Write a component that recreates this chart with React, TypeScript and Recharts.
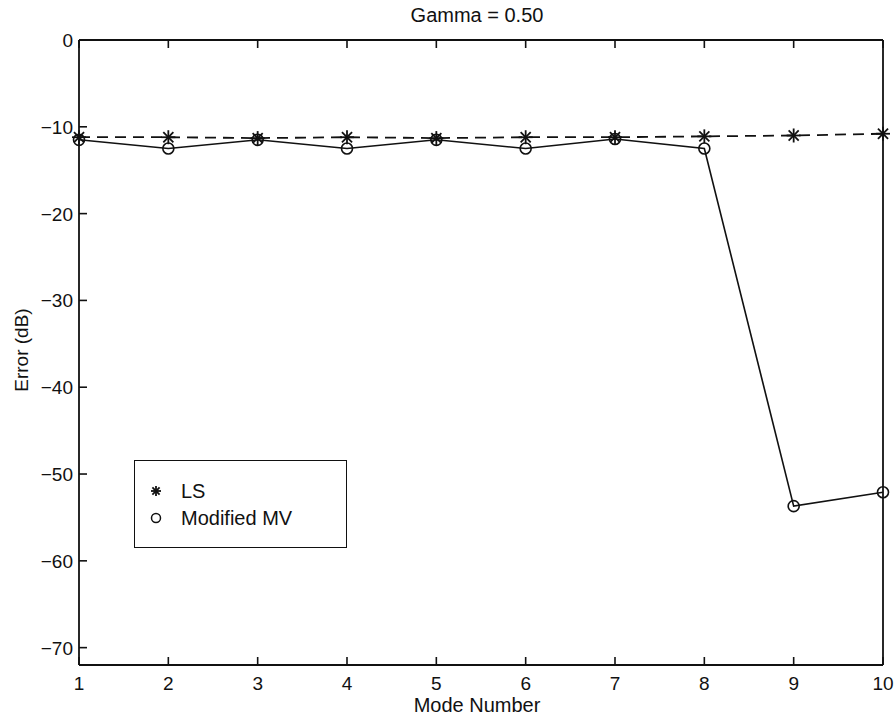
import { Line, LineChart, XAxis, YAxis } from "recharts";

const modes = [1, 2, 3, 4, 5, 6, 7, 8, 9, 10];
const lsError = [-11.2, -11.2, -11.3, -11.2, -11.3, -11.2, -11.2, -11.1, -11.0, -10.8];
const mmvError = [-11.5, -12.5, -11.5, -12.5, -11.5, -12.5, -11.4, -12.5, -53.7, -52.1];
const xTicks = [1, 2, 3, 4, 5, 6, 7, 8, 9, 10];
const yTicks = [0, -10, -20, -30, -40, -50, -60, -70];

const data = modes.map((m, i) => ({ mode: m, ls: lsError[i], mmv: mmvError[i] }));

const FONT = '"Liberation Sans", Arial, Helvetica, sans-serif';
const INK = "#111";

const fmt = (v: number) => String(v).replace("-", "\u2212");

function BottomTick({ x, y, payload }: any) {
  return (
    <g>
      <line x1={x} x2={x} y1={y} y2={y - 8} stroke={INK} strokeWidth={1.6} />
      <text x={x} y={y + 25} textAnchor="middle" fontSize={19} fontFamily={FONT} fill={INK}>
        {payload.value}
      </text>
    </g>
  );
}

function TopTick({ x, y }: any) {
  return <line x1={x} x2={x} y1={y} y2={y + 8} stroke={INK} strokeWidth={1.6} />;
}

function LeftTick({ x, y, payload }: any) {
  return (
    <g>
      <line x1={x} x2={x + 8} y1={y} y2={y} stroke={INK} strokeWidth={1.6} />
      <text x={x - 6} y={y + 7} textAnchor="end" fontSize={19} fontFamily={FONT} fill={INK}>
        {fmt(payload.value)}
      </text>
    </g>
  );
}

function RightTick({ x, y }: any) {
  return <line x1={x} x2={x - 8} y1={y} y2={y} stroke={INK} strokeWidth={1.6} />;
}

function Star({ cx, cy, size = 7 }: { cx: number; cy: number; size?: number }) {
  const d = size * 0.72;
  return (
    <g stroke={INK} strokeWidth={1.8}>
      <line x1={cx - size} x2={cx + size} y1={cy} y2={cy} />
      <line x1={cx} x2={cx} y1={cy - size} y2={cy + size} />
      <line x1={cx - d} x2={cx + d} y1={cy - d} y2={cy + d} />
      <line x1={cx - d} x2={cx + d} y1={cy + d} y2={cy - d} />
    </g>
  );
}

function StarDot(props: any) {
  const { cx, cy, index } = props;
  if (cx == null || cy == null) return <g key={index} />;
  return (
    <g key={index}>
      <Star cx={cx} cy={cy} />
    </g>
  );
}

function CircleDot(props: any) {
  const { cx, cy, index } = props;
  if (cx == null || cy == null) return <g key={index} />;
  return <circle key={index} cx={cx} cy={cy} r={5.5} fill="none" stroke={INK} strokeWidth={1.6} />;
}

export default function App() {
  return (
    <div style={{ position: "absolute", left: 0, top: 0, width: 894, height: 717, background: "#fff" }}>
      <LineChart width={894} height={717} data={data} margin={{ top: 0, right: 0, bottom: 0, left: 0 }}>
        <XAxis
          dataKey="mode"
          type="number"
          domain={[1, 10]}
          ticks={xTicks}
          height={52}
          tickSize={0}
          tickMargin={0}
          tick={<BottomTick />}
          axisLine={{ stroke: INK, strokeWidth: 1.8 }}
          tickLine={false}
          interval={0}
        />
        <XAxis
          xAxisId="top"
          orientation="top"
          dataKey="mode"
          type="number"
          domain={[1, 10]}
          ticks={xTicks}
          height={40}
          tickSize={0}
          tickMargin={0}
          tick={<TopTick />}
          axisLine={{ stroke: INK, strokeWidth: 1.8 }}
          tickLine={false}
          interval={0}
        />
        <YAxis
          type="number"
          domain={[-72, 0]}
          ticks={yTicks}
          width={79}
          tickSize={0}
          tickMargin={0}
          tick={<LeftTick />}
          axisLine={{ stroke: INK, strokeWidth: 1.8 }}
          tickLine={false}
          interval={0}
        />
        <YAxis
          yAxisId="right"
          orientation="right"
          type="number"
          domain={[-72, 0]}
          ticks={yTicks}
          width={11}
          tickSize={0}
          tickMargin={0}
          tick={<RightTick />}
          axisLine={{ stroke: INK, strokeWidth: 1.8 }}
          tickLine={false}
          interval={0}
        />
        <Line
          dataKey="ls"
          name="LS"
          stroke={INK}
          strokeWidth={1.8}
          strokeDasharray="11 7"
          dot={<StarDot />}
          isAnimationActive={false}
        />
        <Line
          dataKey="mmv"
          name="Modified MV"
          stroke={INK}
          strokeWidth={1.6}
          dot={<CircleDot />}
          isAnimationActive={false}
        />
        <text x={477} y={22} textAnchor="middle" fontSize={20} fontFamily={FONT} fill={INK}>
          Gamma = 0.50
        </text>
        <text x={477} y={712} textAnchor="middle" fontSize={20} fontFamily={FONT} fill={INK}>
          Mode Number
        </text>
        <text
          x={28}
          y={350}
          textAnchor="middle"
          fontSize={19}
          fontFamily={FONT}
          fill={INK}
          transform="rotate(-90 28 350)"
        >
          Error (dB)
        </text>
      </LineChart>
      <div
        style={{
          position: "absolute",
          left: 134,
          top: 460,
          width: 211,
          height: 86,
          border: `1.6px solid ${INK}`,
          background: "#fff",
          fontFamily: FONT,
          fontSize: 20,
          color: INK,
        }}
      >
        <div style={{ position: "absolute", left: 0, top: 18, display: "flex", alignItems: "center" }}>
          <svg width={44} height={24}>
            <Star cx={21} cy={12} size={5} />
          </svg>
          <span style={{ marginLeft: 2 }}>LS</span>
        </div>
        <div style={{ position: "absolute", left: 0, top: 45, display: "flex", alignItems: "center" }}>
          <svg width={44} height={24}>
            <circle cx={21} cy={12} r={4.5} fill="none" stroke={INK} strokeWidth={1.5} />
          </svg>
          <span style={{ marginLeft: 2 }}>Modified MV</span>
        </div>
      </div>
    </div>
  );
}
